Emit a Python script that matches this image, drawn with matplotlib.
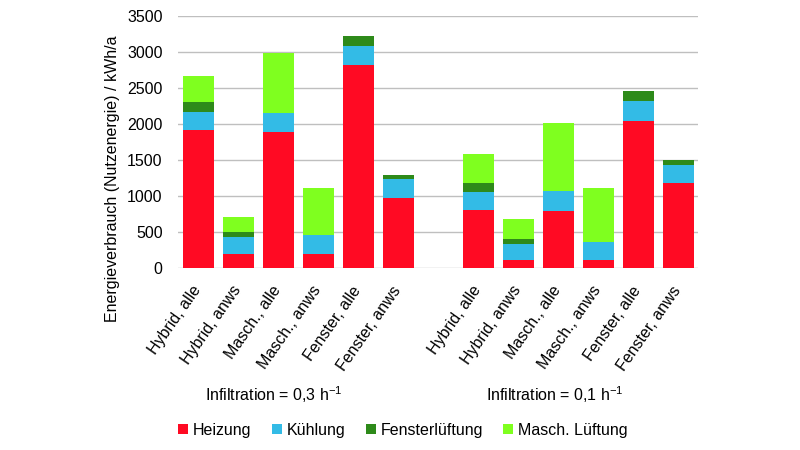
import matplotlib
matplotlib.use("Agg")
import matplotlib.pyplot as plt
from matplotlib.lines import Line2D
import numpy as np

plt.rcParams['font.family'] = ['Liberation Sans', 'DejaVu Sans']
plt.rcParams['mathtext.fontset'] = 'custom'
plt.rcParams['mathtext.rm'] = 'Liberation Sans'
plt.rcParams['mathtext.it'] = 'Liberation Sans'

categories = ["Hybrid, alle", "Hybrid, anws", "Masch., alle", "Masch., anws",
              "Fenster, alle", "Fenster, anws"]
group_labels = ["Infiltration = 0,3 h$^{-1}$", "Infiltration = 0,1 h$^{-1}$"]
series_names = ["Heizung", "Kühlung", "Fensterlüftung", "Masch. Lüftung"]

# Infiltration 0,3
heizung_03 = [1920, 195, 1885, 195, 2815, 975]
kuehlung_03 = [250, 240, 270, 265, 265, 255]
fenster_03 = [130, 60, 0, 0, 140, 65]
masch_03 = [360, 220, 830, 650, 0, 0]
# Infiltration 0,1
heizung_01 = [800, 105, 790, 105, 2045, 1175]
kuehlung_01 = [250, 235, 275, 260, 270, 255]
fenster_01 = [130, 60, 0, 0, 140, 65]
masch_01 = [410, 275, 955, 745, 0, 0]

colors = ["#FF0A23", "#33BBE6", "#2E8A1A", "#7FFF1F"]

fig = plt.figure(figsize=(8, 4.5), dpi=100)
ax = fig.add_axes([178/800, 1-268/450, 520/800, 252/450])

pos = np.array(list(range(6)) + list(range(7, 13)))
series = [heizung_03 + heizung_01, kuehlung_03 + kuehlung_01,
          fenster_03 + fenster_01, masch_03 + masch_01]
bottom = np.zeros(len(pos))
for vals, c in zip(series, colors):
    v = np.array(vals, dtype=float)
    ax.bar(pos, v, bottom=bottom, width=0.775, color=c, zorder=3, linewidth=0)
    bottom += v

ax.set_xlim(-0.5, 12.5)
ax.set_ylim(0, 3500)
ax.set_yticks(np.arange(0, 3501, 500))
ax.yaxis.grid(True, color="#BFBFBF", linewidth=1.0, zorder=0)
for s in ax.spines.values():
    s.set_visible(False)
ax.tick_params(axis='y', length=0, pad=11, labelsize=11.5)
ax.set_xticks(pos)
ax.set_xticklabels(categories + categories, rotation=55, ha='right',
                   rotation_mode='anchor', fontsize=11.5, va='center')
ax.tick_params(axis='x', length=0, pad=14)

fig.text(113/800, 1-179/450, "Energieverbrauch (Nutzenergie) / kWh/a",
         rotation=90, ha='center', va='center', fontsize=11.5)

fig.text(273.5/800, 1-395/450, group_labels[0], ha='center', va='center', fontsize=11.5)
fig.text(555/800, 1-395/450, group_labels[1], ha='center', va='center', fontsize=11.5)

handles = [Line2D([], [], marker='s', linestyle='none', markersize=7,
                  markerfacecolor=c, markeredgewidth=0) for c in colors]
fig.legend(handles, series_names, loc='center', bbox_to_anchor=(403/800, 1-430/450),
           ncol=4, frameon=False, fontsize=11.5, handlelength=0.6,
           handletextpad=0.3, columnspacing=1.3, borderaxespad=0)

fig.savefig("out.png", dpi=100)
